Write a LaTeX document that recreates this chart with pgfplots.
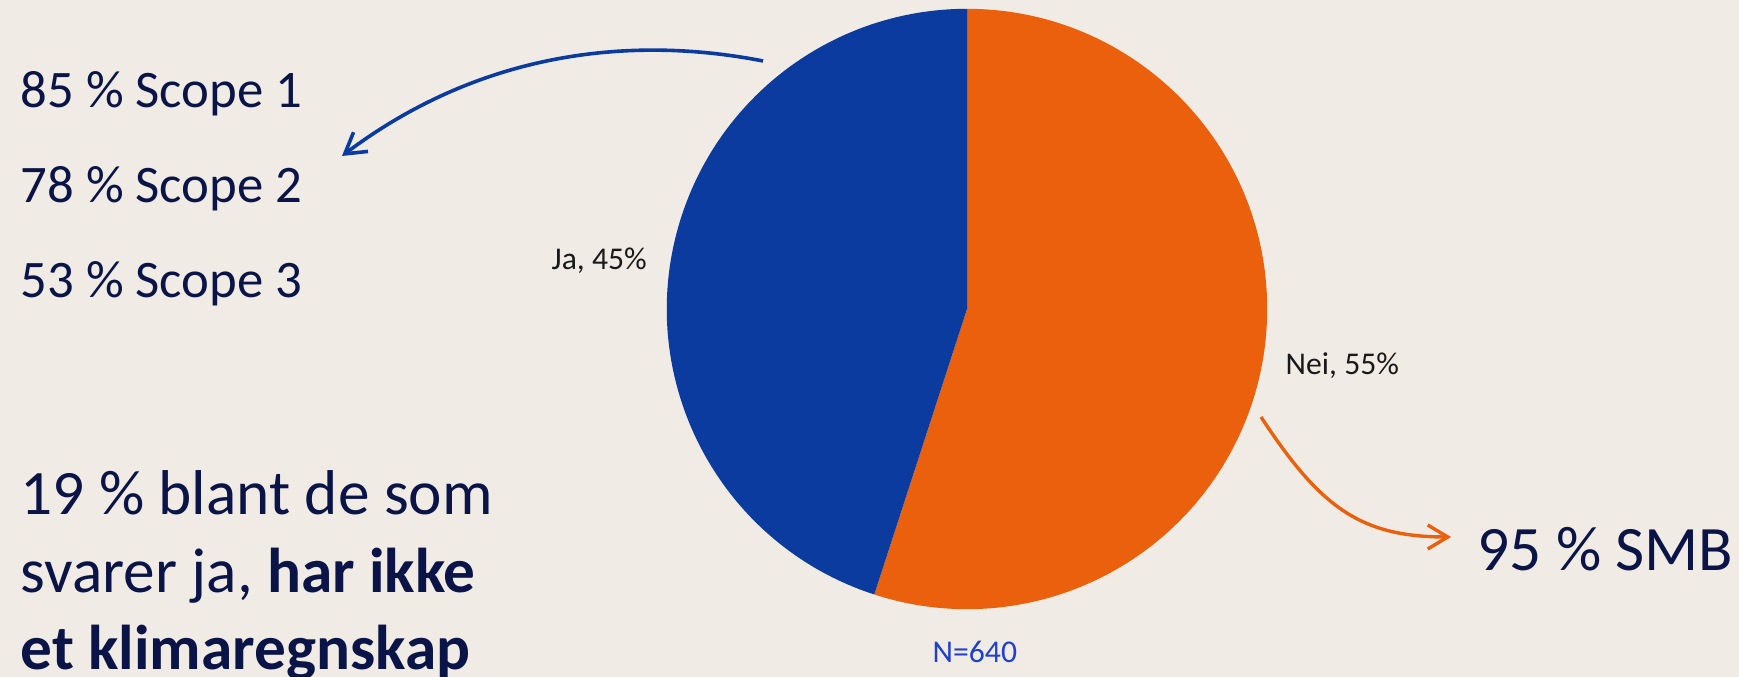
\documentclass[border=0pt]{standalone}
\usepackage{pgfplots}
\usepackage{pgfplotstable}
\pgfplotsset{compat=1.18}
\usetikzlibrary{arrows.meta}
\usepackage{fontspec}
\setmainfont{Carlito}

\definecolor{bg}{HTML}{F0ECE5}
\definecolor{jablue}{HTML}{0B3B9E}
\definecolor{neiorange}{HTML}{EB600C}
\definecolor{navy}{HTML}{0B1446}
\definecolor{nblue}{HTML}{1F3FCC}

% svar: andel i prosent
\pgfplotstableread{
label value
Nei 55
Ja 45
}\piedata

\begin{document}
\begin{tikzpicture}
\pgfplotstablegetelem{0}{value}\of\piedata \let\nei\pgfplotsretval
\pgfplotstablegetelem{1}{value}\of\piedata \let\ja\pgfplotsretval
\pgfmathsetmacro\aA{90-3.6*\nei}
\pgfmathsetmacro\aB{\aA-3.6*\ja}
\begin{axis}[
    name=ax,
    x=0.01cm, y=0.01cm,
    xmin=0, xmax=1739, ymin=0, ymax=677,
    hide axis, clip=false,
  ]
  \fill[bg] (axis cs:0,0) rectangle (axis cs:1739,677);
  % kake
  \fill[neiorange] (axis cs:967,368) -- ++(90:3cm)
    arc[start angle=90, end angle=\aA, radius=3cm] -- cycle;
  \fill[jablue] (axis cs:967,368) -- ++(\aA:3cm)
    arc[start angle=\aA, end angle=\aB, radius=3cm] -- cycle;
  % dataetiketter
  \node[anchor=base west, inner sep=0, text=black!90, font=\fontsize{9}{11}\selectfont]
    at (axis cs:551,407) {Ja, 45\%};
  \node[anchor=base west, inner sep=0, text=black!90, font=\fontsize{9}{11}\selectfont]
    at (axis cs:1285,302) {Nei, 55\%};
  \node[anchor=base west, inner sep=0, text=nblue, font=\fontsize{9}{11}\selectfont]
    at (axis cs:932,14) {N=640};
  % piler
  \draw[jablue, line width=0.36mm, -{Straight Barb[length=2mm, width=2.4mm]}]
    (axis cs:763,616) .. controls (axis cs:630,642) and (axis cs:480,625) .. (axis cs:342,521);
  \draw[neiorange, line width=0.34mm, -{Straight Barb[length=2mm, width=2.4mm]}]
    (axis cs:1261,260) .. controls (axis cs:1320,170) and (axis cs:1360,140) .. (axis cs:1451,140);
  % tekst
  \begin{scope}[every node/.style={anchor=base west, inner sep=0, text=navy, font=\fontsize{15}{18}\selectfont}]
    \node at (axis cs:20,569) {85 \% Scope 1};
    \node at (axis cs:20,474) {78 \% Scope 2};
    \node at (axis cs:20,379) {53 \% Scope 3};
  \end{scope}
  \begin{scope}[every node/.style={anchor=base west, inner sep=0, text=navy, font=\fontsize{18}{22}\selectfont}]
    \node at (axis cs:20,162) {19 \% blant de som};
    \node at (axis cs:20,84) {svarer ja, \textbf{har ikke}};
    \node at (axis cs:20,7) {\textbf{et klimaregnskap}};
    \node at (axis cs:1477,106) {95 \% SMB};
  \end{scope}
\end{axis}
\pgfresetboundingbox
\useasboundingbox (ax.south west) rectangle (ax.north east);
\end{tikzpicture}
\end{document}
